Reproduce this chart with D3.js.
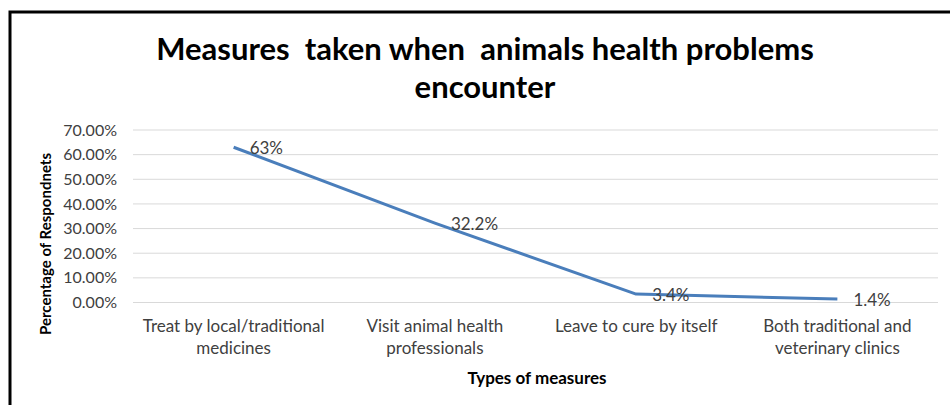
<!DOCTYPE html>
<html>
<head>
<meta charset="utf-8">
<script src="https://cdn.jsdelivr.net/npm/d3@7"></script>
<style>
  html, body { margin: 0; padding: 0; background: #fff; }
  svg { display: block; }
  text { white-space: pre; }
</style>
</head>
<body>
<div id="chart"></div>
<script>
// Chart data
const categories = [
  'Treat by local/traditional medicines',
  'Visit animal health professionals',
  'Leave to cure by itself',
  'Both traditional and veterinary clinics'
]
const categoryLines = [
  ['Treat by local/traditional', 'medicines'],
  ['Visit animal health', 'professionals'],
  ['Leave to cure by itself'],
  ['Both traditional and', 'veterinary clinics']
]
const values = [0.63, 0.322, 0.034, 0.014]
const valueLabels = ['63%', '32.2%', '3.4%', '1.4%']
const yTicks = [0, 0.1, 0.2, 0.3, 0.4, 0.5, 0.6, 0.7]
const titleLines = ['Measures  taken when  animals health problems', 'encounter']
const xTitle = 'Types of measures'
const yTitle = 'Percentage of Respondnets'

const width = 950
const height = 405
const margin = { top: 130, right: 12, bottom: 102.5, left: 133 }
const FONT = 'Lato, "Open Sans", sans-serif'
const TEXT = '#404040'

const svg = d3.select('#chart').append('svg')
  .attr('width', width)
  .attr('height', height)

// Outer frame (top + left visible)
svg.append('path')
  .attr('d', `M10,${height} L10,12 L${width},12`)
  .attr('fill', 'none')
  .attr('stroke', '#000')
  .attr('stroke-width', 3)

const x = d3.scaleBand()
  .domain(categories)
  .range([margin.left, width - margin.right])

const y = d3.scaleLinear()
  .domain([0, 0.7])
  .range([height - margin.bottom, margin.top])

// Gridlines
svg.append('g').attr('class', 'grid-y')
  .selectAll('line')
  .data(yTicks)
  .join('line')
  .attr('x1', margin.left).attr('x2', width - margin.right)
  .attr('y1', d => y(d)).attr('y2', d => y(d))
  .attr('stroke', '#d9d9d9').attr('stroke-width', 1)

// Y axis
svg.append('g')
  .attr('transform', `translate(${margin.left},0)`)
  .call(d3.axisLeft(y).tickValues(yTicks).tickFormat(d3.format('.2%')).tickSize(0).tickPadding(16))
  .call(g => {
    g.select('.domain').remove()
    g.selectAll('.tick text')
      .attr('fill', TEXT).attr('font-size', '16px')
      .attr('font-family', FONT)
  })

// X axis (category labels, wrapped)
const xAxis = svg.append('g')
  .attr('transform', `translate(0,${height - margin.bottom})`)
  .call(d3.axisBottom(x).tickSize(0).tickFormat(''))
xAxis.select('.domain').remove()
xAxis.selectAll('.tick').each(function (d, i) {
  const t = d3.select(this).append('text')
    .attr('fill', TEXT).attr('font-size', '17px')
    .attr('font-family', FONT)
    .attr('text-anchor', 'middle')
    .attr('y', 29)
  categoryLines[i].forEach((ln, j) => {
    t.append('tspan').attr('x', 0).attr('dy', j === 0 ? 0 : 22).text(ln)
  })
})

// Line
const pts = categories.map((c, i) => ({ c, v: values[i], label: valueLabels[i] }))
const lineFn = d3.line()
  .x(d => x(d.c) + x.bandwidth() / 2)
  .y(d => y(d.v))

svg.append('path')
  .datum(pts)
  .attr('fill', 'none')
  .attr('stroke', '#4a7ebb')
  .attr('stroke-width', 3)
  .attr('stroke-linejoin', 'round')
  .attr('d', lineFn)

// Data labels
svg.append('g')
  .selectAll('text')
  .data(pts)
  .join('text')
  .attr('x', d => x(d.c) + x.bandwidth() / 2 + 16)
  .attr('y', d => y(d.v) + 7)
  .attr('fill', TEXT).attr('font-size', '17px')
  .attr('font-family', FONT)
  .text(d => d.label)

// Title
svg.append('g')
  .selectAll('text')
  .data(titleLines)
  .join('text')
  .attr('x', 485)
  .attr('y', (d, i) => 60 + i * 38)
  .attr('text-anchor', 'middle')
  .attr('fill', '#000')
  .attr('font-size', '31px')
  .attr('font-weight', 'bold')
  .attr('font-family', FONT)
  .text(d => d)

// Axis titles
svg.append('text')
  .attr('x', 537).attr('y', 384)
  .attr('text-anchor', 'middle')
  .attr('fill', '#000').attr('font-size', '17px').attr('font-weight', 'bold')
  .attr('font-family', FONT)
  .text(xTitle)

svg.append('text')
  .attr('transform', `translate(51,244) rotate(-90)`)
  .attr('text-anchor', 'middle')
  .attr('fill', '#000').attr('font-size', '15px').attr('font-weight', 'bold')
  .attr('font-family', FONT)
  .text(yTitle)
</script>
</body>
</html>
